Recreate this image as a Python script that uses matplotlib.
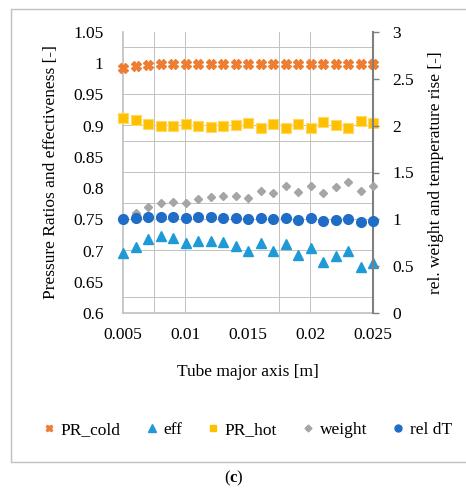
import matplotlib
matplotlib.use("Agg")
import matplotlib.pyplot as plt
from matplotlib.lines import Line2D
from matplotlib.patches import Rectangle

plt.rcParams['font.family'] = ['Liberation Serif', 'DejaVu Serif']
plt.rcParams['mathtext.fontset'] = 'custom'
plt.rcParams['mathtext.rm'] = 'Liberation Serif'
plt.rcParams['mathtext.bf'] = 'Liberation Serif:bold'

x = [0.005, 0.006, 0.007, 0.008, 0.009, 0.010, 0.011, 0.012, 0.013, 0.014, 0.015,
     0.016, 0.017, 0.018, 0.019, 0.020, 0.021, 0.022, 0.023, 0.024, 0.025]
pr_cold = [0.993, 0.996, 0.997, 0.998, 0.998, 0.998, 0.998, 0.998, 0.998, 0.998, 0.998,
           0.998, 0.998, 0.998, 0.998, 0.998, 0.998, 0.998, 0.998, 0.998, 0.998]
eff = [0.6955, 0.706, 0.718, 0.723, 0.7205, 0.7125, 0.7157, 0.7157, 0.713, 0.707, 0.699,
       0.7125, 0.699, 0.710, 0.693, 0.7035, 0.682, 0.691, 0.6997, 0.673, 0.6805]
pr_hot = [0.9125, 0.909, 0.902, 0.899, 0.899, 0.902, 0.899, 0.898, 0.899, 0.901, 0.904,
          0.8965, 0.902, 0.8955, 0.902, 0.8965, 0.906, 0.901, 0.8955, 0.907, 0.9035]
weight = [1.000, 1.064, 1.135, 1.171, 1.189, 1.171, 1.213, 1.242, 1.249, 1.249, 1.231,
          1.306, 1.278, 1.356, 1.292, 1.359, 1.285, 1.342, 1.402, 1.303, 1.356]
rel_dt = [1.000, 1.011, 1.021, 1.028, 1.028, 1.018, 1.021, 1.021, 1.018, 1.011, 1.000,
          1.018, 1.000, 1.018, 0.993, 1.011, 0.982, 0.993, 1.000, 0.968, 0.982]

xticks = [0.005, 0.01, 0.015, 0.02, 0.025]
xticklabels = ['0.005', '0.01', '0.015', '0.02', '0.025']
yticks_left = [0.6, 0.65, 0.7, 0.75, 0.8, 0.85, 0.9, 0.95, 1.0, 1.05]
yticklabels_left = ['0.6', '0.65', '0.7', '0.75', '0.8', '0.85', '0.9', '0.95', '1', '1.05']
yticks_right = [0, 0.5, 1, 1.5, 2, 2.5, 3]
yticklabels_right = ['0', '0.5', '1', '1.5', '2', '2.5', '3']
grid_x = [0.005, 0.0075, 0.01, 0.0125, 0.015, 0.0175, 0.02, 0.0225, 0.025]
grid_y = [0.6, 0.625, 0.65, 0.675, 0.7, 0.725, 0.75, 0.775, 0.8, 0.825, 0.85,
          0.875, 0.9, 0.925, 0.95, 0.975, 1.0, 1.025, 1.05]

c_cold = '#ED7D31'
c_eff = '#1E9AD6'
c_hot = '#FFC000'
c_w = '#A5A5A5'
c_dt = '#1F6DC6'
c_grid = '#c2c2c2'

fig = plt.figure(figsize=(4.66, 4.91), dpi=100)
rect = [123/466, 1-313/491, 250/466, 281/491]

ax = fig.add_axes(rect)
ax2 = ax.twinx()

ax.set_xlim(0.005, 0.025)
ax.set_ylim(0.6, 1.05)
ax2.set_ylim(0, 3)

# gridlines as thin filled patches (x in data, y in axes fraction and vice versa)
gw_x = 0.00004
for gx in grid_x:
    ax.add_patch(Rectangle((gx - gw_x / 2, 0), gw_x, 1, transform=ax.get_xaxis_transform(),
                           facecolor=c_grid, edgecolor='none', zorder=1, clip_on=False))
gw_y = 0.0008
for gy in grid_y:
    ax.add_patch(Rectangle((0, gy - gw_y / 2), 1, gw_y, transform=ax.get_yaxis_transform(),
                           facecolor=c_grid, edgecolor='none', zorder=1, clip_on=False))

ax.set_xticks(xticks)
ax.set_xticklabels(xticklabels)
ax.set_yticks(yticks_left)
ax.set_yticklabels(yticklabels_left)
ax2.set_yticks(yticks_right)
ax2.set_yticklabels(yticklabels_right)

fs = 12.5
ax.tick_params(axis='both', which='both', length=0, labelsize=fs)
ax.tick_params(axis='y', pad=14)
ax.tick_params(axis='x', pad=10)
ax2.tick_params(axis='y', length=4, width=1, color='#7f7f7f', labelsize=fs, pad=10, direction='out')

ax.spines['top'].set_visible(False)
ax2.spines['top'].set_visible(False)
ax.spines['left'].set_color('#bfbfbf')
ax.spines['bottom'].set_color('#bfbfbf')
ax.spines['left'].set_linewidth(1.2)
ax.spines['bottom'].set_linewidth(1.2)
ax.spines['right'].set_visible(False)
ax2.spines['left'].set_visible(False)
ax2.spines['bottom'].set_visible(False)
ax2.spines['right'].set_color('#7f7f7f')
ax2.spines['right'].set_linewidth(1.5)

ax.plot(x, pr_cold, linestyle='none', marker='X', ms=6.5, color=c_cold, mec=c_cold, zorder=3, clip_on=False)
ax.plot(x, eff, linestyle='none', marker='^', ms=7.5, color=c_eff, mec=c_eff, zorder=3, clip_on=False)
ax.plot(x, pr_hot, linestyle='none', marker='s', ms=6.5, color=c_hot, mec='#ffd966', mew=0.8, zorder=3, clip_on=False)
ax2.plot(x, weight, linestyle='none', marker='D', ms=4.5, color=c_w, mec=c_w, zorder=3, clip_on=False)
ax2.plot(x, rel_dt, linestyle='none', marker='o', ms=7, color=c_dt, mec=c_dt, zorder=4, clip_on=False)

ax.set_xlabel('Tube major axis [m]', fontsize=fs)
ax.xaxis.set_label_coords(0.5, -0.18)
ax.set_ylabel('Pressure Ratios and effectiveness [-]', fontsize=fs)
ax.yaxis.set_label_coords(-0.255, 0.5)
ax2.set_ylabel('rel. weight and temperature rise [-]', fontsize=fs)
ax2.yaxis.set_label_coords(1.22, 0.5)

handles = [
    Line2D([], [], linestyle='none', marker='X', ms=5, color=c_cold),
    Line2D([], [], linestyle='none', marker='^', ms=5.5, color=c_eff),
    Line2D([], [], linestyle='none', marker='s', ms=5, color=c_hot),
    Line2D([], [], linestyle='none', marker='D', ms=3.5, color=c_w),
    Line2D([], [], linestyle='none', marker='o', ms=5, color=c_dt),
]
labels = ['PR_cold', 'eff', 'PR_hot', 'weight', 'rel dT']
fig.legend(handles, labels, loc='center', bbox_to_anchor=(248/466, 1-430/491), ncol=5,
           frameon=False, fontsize=fs, handlelength=0.6, handletextpad=0.35, columnspacing=1.5)

# chart border (open on the right)
bx0, bx1 = 11/466, 1.0
by0, by1 = 1-462/491, 1-9/491
fig.add_artist(Line2D([bx1, bx0, bx0, bx1], [by1, by1, by0, by0], transform=fig.transFigure,
                      color='#bfbfbf', lw=1.0))

fig.text(234/466, 1-478/491, r'($\mathbf{c}$)', ha='center', va='center', fontsize=12)

fig.savefig('out.png', dpi=100)
